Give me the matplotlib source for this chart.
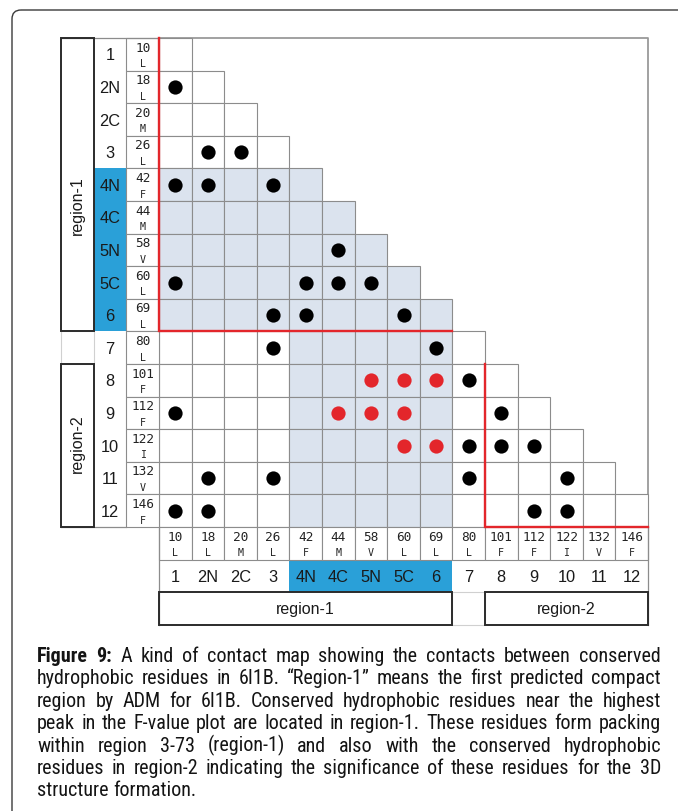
import matplotlib
matplotlib.use("Agg")
import matplotlib.pyplot as plt
from matplotlib import font_manager
from matplotlib.patches import Rectangle, FancyBboxPatch

# ---- data -------------------------------------------------------------
segment_labels = ["1", "2N", "2C", "3", "4N", "4C", "5N", "5C", "6",
                  "7", "8", "9", "10", "11", "12"]
residue_numbers = [10, 18, 20, 26, 42, 44, 58, 60, 69, 80, 101, 112, 122, 132, 146]
residue_types = ["L", "L", "M", "L", "F", "M", "V", "L", "L", "L", "F", "F", "I", "V", "F"]

# contacts as (residue, residue) pairs
contacts_black = [(18, 10), (26, 18), (26, 20), (42, 10), (42, 18), (42, 26),
                  (58, 44), (60, 10), (60, 42), (60, 44), (60, 58),
                  (69, 26), (69, 42), (69, 60), (80, 26), (80, 69),
                  (101, 80), (112, 10), (112, 101),
                  (122, 80), (122, 101), (122, 112),
                  (132, 18), (132, 26), (132, 80), (132, 122),
                  (146, 10), (146, 18), (146, 112), (146, 122)]
contacts_red = [(101, 58), (101, 60), (101, 69),
                (112, 44), (112, 58), (112, 60),
                (122, 60), (122, 69)]

region1_core = ["4N", "4C", "5N", "5C", "6"]
region1_members = segment_labels[:9]
region2_members = segment_labels[10:]

caption_lines = [
    "Figure 9: A kind of contact map showing the contacts between conserved",
    "hydrophobic residues in 6I1B. \u201cRegion-1\u201d means the first predicted compact",
    "region by ADM for 6I1B. Conserved hydrophobic residues near the highest",
    "peak in the F-value plot are located in region-1. These residues form packing",
    "within region 3-73 (region-1) and also with the conserved hydrophobic",
    "residues in region-2 indicating the significance of these residues for the 3D",
    "structure formation.",
]

# ---- styling ------------------------------------------------------------
W, H = 678, 812
GRID = "#8c8c8c"
DARK = "#2b2b2b"
RED = "#e3262b"
SHADE = "#dbe3ee"
BLUE = "#2aa0d8"
SANS = "Liberation Sans"
MONO = "DejaVu Sans Mono"

installed = {f.name for f in font_manager.fontManager.ttflist}
CAPTION_FONT = SANS
for cand in ["Liberation Sans Narrow", "Arial Narrow", "DejaVu Sans Condensed",
             "Roboto Condensed", "Open Sans Condensed"]:
    if cand in installed:
        CAPTION_FONT = cand
        break

fig = plt.figure(figsize=(W / 100, H / 100), dpi=100)
fig.patch.set_facecolor("white")

# full-page pixel axes for the frame and caption
page = fig.add_axes([0, 0, 1, 1])
page.set_xlim(0, W)
page.set_ylim(H, 0)
page.axis("off")
page.add_patch(FancyBboxPatch((12, 11), 720, 840,
                              boxstyle="round,pad=0,rounding_size=9",
                              fill=False, ec="#3a3a3a", lw=1.0))

# contact-map axes: one unit per residue
n = len(residue_numbers)
gx0, gy0, gsize = 159, 39, 489
ax = fig.add_axes([gx0 / W, (H - gy0 - gsize) / H, gsize / W, gsize / H])
ax.set_xlim(0, n)
ax.set_ylim(n, 0)
ax.axis("off")

core_idx = [segment_labels.index(s) for s in region1_core]
core_lo, core_hi = min(core_idx), max(core_idx)


def rect(x, y, w, h, **kw):
    kw.setdefault("clip_on", False)
    ax.add_patch(Rectangle((x, y), w, h, **kw))


# outer frame of the square area
ax.plot([0, n, n], [0, 0, n], color="#9a9a9a", lw=1.3, clip_on=False, zorder=1)

# lower-triangle cells
for r in range(n):
    for c in range(r + 1):
        shaded = core_lo <= r <= core_hi or core_lo <= c <= core_hi
        rect(c, r, 1, 1, fc=SHADE if shaded else "white", ec=GRID, lw=0.8, zorder=2)

# red boundaries of the two regions
r1_end = len(region1_members)
r2_start = segment_labels.index(region2_members[0])
ax.plot([0, 0, r1_end], [0, r1_end, r1_end], color=RED, lw=1.7,
        clip_on=False, zorder=5, solid_joinstyle="miter")
ax.plot([r2_start, r2_start, n], [r2_start, n, n], color=RED, lw=1.7,
        clip_on=False, zorder=5, solid_joinstyle="miter")

# contact dots
pos = {num: i for i, num in enumerate(residue_numbers)}
bx = [pos[b] + 0.5 for a, b in contacts_black]
by = [pos[a] + 0.5 for a, b in contacts_black]
rx = [pos[b] + 0.5 for a, b in contacts_red]
ry = [pos[a] + 0.5 for a, b in contacts_red]
ax.scatter(bx, by, s=105, color="black", zorder=6, clip_on=False, linewidths=0)
ax.scatter(rx, ry, s=105, color=RED, zorder=6, clip_on=False, linewidths=0)


def residue_text(x, y, i):
    ax.text(x, y + 0.28, str(residue_numbers[i]), ha="center", va="center",
            family=MONO, fontsize=9.2, color="#222")
    ax.text(x, y + 0.77, residue_types[i], ha="center", va="center",
            family=MONO, fontsize=7.2, color="#222")


# ---- left header ----------------------------------------------------------
for i in range(n):
    rect(-1, i, 1, 1, fc="white", ec=GRID, lw=0.8, zorder=2)
    residue_text(-0.5, i, i)
    if core_lo <= i <= core_hi:
        rect(-2, i, 1, 1, fc=BLUE, ec="none", zorder=1)
    ax.text(-1.5, i + 0.52, segment_labels[i], ha="center", va="center",
            family=SANS, fontsize=11.8, color="#1a1a1a")

ax.plot([-3, 0], [0, 0], color=GRID, lw=0.9, clip_on=False, zorder=3)
ax.plot([-3, -1], [n, n], color=GRID, lw=0.9, clip_on=False, zorder=3)

# region boxes on the left
rect(-3, 0, 1, r1_end, fc="none", ec=DARK, lw=1.4, zorder=4)
rect(-3, r1_end, 1, r2_start - r1_end, fc="none", ec="#d0d0d0", lw=0.8, zorder=3)
rect(-3, r2_start, 1, n - r2_start, fc="none", ec=DARK, lw=1.4, zorder=4)
ax.text(-2.5, 5.1, "region-1", rotation=90, ha="center", va="center",
        family=SANS, fontsize=11.5, color="#1a1a1a")
ax.text(-2.5, 12.4, "region-2", rotation=90, ha="center", va="center",
        family=SANS, fontsize=11.5, color="#1a1a1a")

# ---- bottom header --------------------------------------------------------
for j in range(n):
    rect(j, n, 1, 1, fc="white", ec=GRID, lw=0.8, zorder=2)
    residue_text(j + 0.5, n, j)
    if core_lo <= j <= core_hi:
        rect(j, n + 1, 1, 1, fc=BLUE, ec="none", zorder=1)
    ax.text(j + 0.5, n + 1.52, segment_labels[j], ha="center", va="center",
            family=SANS, fontsize=11.8, color="#1a1a1a")

ax.plot([0, 0], [n, n + 3], color=GRID, lw=0.9, clip_on=False, zorder=3)
ax.plot([n, n], [n, n + 3], color=GRID, lw=0.9, clip_on=False, zorder=3)

rect(0, n + 2, r1_end, 1, fc="none", ec=DARK, lw=1.4, zorder=4)
rect(r1_end, n + 2, r2_start - r1_end, 1, fc="none", ec="#d0d0d0", lw=0.8, zorder=3)
rect(r2_start, n + 2, n - r2_start, 1, fc="none", ec=DARK, lw=1.4, zorder=4)
ax.text(r1_end / 2, n + 2.5, "region-1", ha="center", va="center",
        family=SANS, fontsize=11.5, color="#1a1a1a")
ax.text((r2_start + n) / 2, n + 2.5, "region-2", ha="center", va="center",
        family=SANS, fontsize=11.5, color="#1a1a1a")

# ---- justified caption ---------------------------------------------------
renderer = fig.canvas.get_renderer()
x_left, x_right = 37, 661
baseline0, leading = 662, 22.4
cap_size = 13.0


def word_width(word, weight, size):
    t = page.text(0, 0, word, family=CAPTION_FONT, fontsize=size, weight=weight)
    w = t.get_window_extent(renderer).width
    t.remove()
    return w


def space_width(size):
    return word_width("a b", "normal", size) - word_width("ab", "normal", size)


# size the font so the tightest line just fills the column with normal spacing
sp = space_width(cap_size)
widest = 0
for k, line in enumerate(caption_lines[:-1]):
    words = line.split()
    tot = sum(word_width(w, "bold" if (k == 0 and i < 2) else "normal", cap_size)
              for i, w in enumerate(words))
    widest = max(widest, tot + sp * (len(words) - 1))
cap_size = min(cap_size * (x_right - x_left) / widest, 14.5)
sp = space_width(cap_size)

for k, line in enumerate(caption_lines):
    words = line.split()
    weights = ["bold" if (k == 0 and i < 2) else "normal" for i in range(len(words))]
    widths = [word_width(w, wt, cap_size) for w, wt in zip(words, weights)]
    if k < len(caption_lines) - 1 and len(words) > 1:
        gap = (x_right - x_left - sum(widths)) / (len(words) - 1)
    else:
        gap = sp
    x = x_left
    y = baseline0 + k * leading
    for w, wt, ww in zip(words, weights, widths):
        page.text(x, y, w, family=CAPTION_FONT, fontsize=cap_size, weight=wt,
                  va="baseline", ha="left", color="#141414")
        x += ww + gap

fig.savefig("out.png", dpi=100, facecolor="white")
